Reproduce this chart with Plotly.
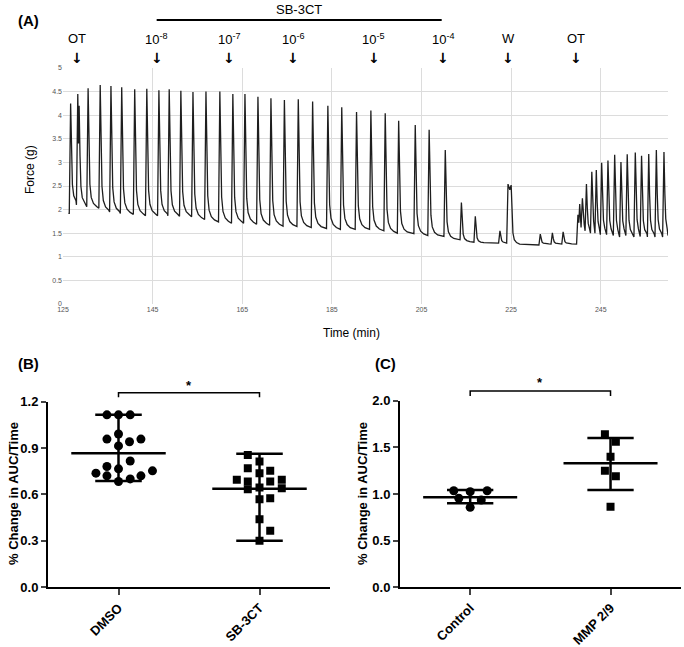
import plotly.graph_objects as go

W, H = 684, 647

# %%
# Panel A - force recording, peaks / troughs
peak_t = [126.7, 128.3, 128.6, 130.6, 133.3, 135.7, 138.1, 141.0, 143.7, 146.4,
          148.7, 151.3, 154.0, 156.9, 160.0, 162.9, 165.6, 168.5, 171.4, 174.4,
          177.5, 180.7, 184.1, 187.2, 190.5, 193.7, 196.9, 199.9, 203.6, 206.7,
          210.3, 213.9, 217.0, 222.5, 224.3, 225.0, 231.5, 234.2, 236.6, 239.9,
          240.3, 240.9, 241.8, 243.0, 244.0, 245.2, 246.6, 248.1, 249.5, 250.9,
          252.7, 254.1, 255.7, 257.4, 259.1]
peak_f = [4.25, 4.45, 4.20, 4.57, 4.64, 4.62, 4.59, 4.55, 4.56, 4.53,
          4.55, 4.52, 4.49, 4.50, 4.50, 4.45, 4.45, 4.39, 4.36, 4.32,
          4.34, 4.29, 4.20, 4.17, 4.07, 4.10, 4.04, 3.88, 3.79, 3.69,
          3.26, 2.15, 1.86, 1.55, 2.54, 2.52, 1.48, 1.51, 1.53, 1.89,
          2.12, 2.24, 2.54, 2.80, 2.84, 2.99, 3.04, 3.16, 3.01, 3.17,
          3.21, 3.14, 3.18, 3.26, 3.22]
trough_f = [2.10, 3.40, 2.06, 2.03, 1.95, 1.92, 1.90, 1.87, 1.87, 1.87,
            1.86, 1.85, 1.79, 1.74, 1.71, 1.71, 1.69, 1.67, 1.65, 1.64,
            1.62, 1.60, 1.58, 1.58, 1.58, 1.55, 1.50, 1.49, 1.45, 1.43,
            1.36, 1.31, 1.29, 1.29, 2.42, 1.25, 1.27, 1.27, 1.27, 1.72,
            1.62, 1.55, 1.50, 1.50, 1.47, 1.47, 1.45, 1.42, 1.45, 1.42,
            1.43, 1.42, 1.42, 1.42, 1.45]
start_t, start_f = 126.2, 1.92
end_t, end_f = 260.0, 1.45

# drug additions
event_t = [128.2, 145.9, 162.1, 176.4, 194.3, 209.9, 224.3, 239.4]
event_lbl = ["OT", "10<sup>-8</sup>", "10<sup>-7</sup>", "10<sup>-6</sup>",
             "10<sup>-5</sup>", "10<sup>-4</sup>", "W", "OT"]
sb_bar = [145.9, 209.5]

# %%
# Panel B - DMSO vs SB-3CT
dmso_y = [1.114, 1.114, 1.114, 0.99, 0.957, 0.957, 0.94, 0.913, 0.816,
          0.78, 0.765, 0.752, 0.737, 0.72, 0.72, 0.70, 0.683]
dmso_dx = [-0.082, 0, 0.083, 0, -0.082, 0.159, 0.078, 0, 0.083,
           -0.082, 0, 0.241, -0.16, -0.082, 0.159, 0.083, 0]
sb_y = [0.855, 0.812, 0.769, 0.737, 0.752, 0.694, 0.683, 0.683, 0.694,
        0.634, 0.644, 0.64, 0.569, 0.575, 0.44, 0.366, 0.301]
sb_dx = [-0.083, 0, -0.083, 0, 0.076, -0.161, -0.083, 0.076, 0.158,
         -0.083, 0, 0.158, 0, 0.076, 0, 0.076, 0]
b_groups = ["DMSO", "SB-3CT"]
b_mean = [0.866, 0.637]
b_hi = [1.114, 0.863]
b_lo = [0.686, 0.301]

# Panel C - Control vs MMP 2/9
ctrl_y = [1.035, 1.025, 1.035, 0.954, 0.936, 0.857]
ctrl_dx = [-0.117, 0, 0.121, -0.081, 0.079, 0]
mmp_y = [1.64, 1.56, 1.40, 1.25, 1.19, 0.864]
mmp_dx = [-0.04, 0.038, 0, -0.04, 0.038, 0]
c_groups = ["Control", "MMP 2/9"]
c_mean = [0.965, 1.33]
c_hi = [1.043, 1.60]
c_lo = [0.90, 1.043]


# screen pixel -> paper coords
def py(p):
    return 1 - p / H


def px(p):
    return p / W


# %%
# build the trace: onset -> peak -> decay tail -> next onset
decay = [(0.2, 0.5), (0.4, 0.2), (0.7, 0.09), (1.2, 0.04), (1.9, 0.015)]
tx, ty = [start_t], [start_f]
prev_f = start_f
for i, (t, h, tr) in enumerate(zip(peak_t, peak_f, trough_f)):
    prev_t = peak_t[i - 1] if i else start_t - 0.6
    rise = min(0.3, (t - prev_t) / 2)
    tx.append(t - rise)
    ty.append(prev_f)
    tx.append(t)
    ty.append(h)
    if i + 1 < len(peak_t):
        nxt = peak_t[i + 1] - min(0.3, (peak_t[i + 1] - t) / 2)
    else:
        nxt = end_t
    for d, f in decay:
        if t + d < nxt:
            tx.append(t + d)
            ty.append(tr + f * (h - tr))
    prev_f = tr
tx.append(end_t)
ty.append(end_f)

fig = go.Figure()
fig.add_trace(go.Scatter(x=tx, y=ty, mode="lines", line=dict(color="#1e1e1e", width=1.3),
                         xaxis="x", yaxis="y", showlegend=False))


def scatter_group(xa, ya, yvals, dx, idx, symbol, size):
    fig.add_trace(go.Scatter(
        x=[idx + d for d in dx], y=yvals, mode="markers",
        marker=dict(symbol=symbol, size=size, color="black"),
        xaxis=xa, yaxis=ya, showlegend=False))


def summary_lines(xa, ya, mean, hi, lo):
    for i in range(len(mean)):
        for xs, ys in [([i - 0.335, i + 0.335], [mean[i], mean[i]]),
                       ([i - 0.165, i + 0.165], [hi[i], hi[i]]),
                       ([i - 0.165, i + 0.165], [lo[i], lo[i]]),
                       ([i, i], [lo[i], hi[i]])]:
            fig.add_trace(go.Scatter(x=xs, y=ys, mode="lines",
                                     line=dict(color="black", width=2.5),
                                     xaxis=xa, yaxis=ya, showlegend=False))


summary_lines("x2", "y2", b_mean, b_hi, b_lo)
scatter_group("x2", "y2", dmso_y, dmso_dx, 0, "circle", 9)
scatter_group("x2", "y2", sb_y, sb_dx, 1, "square", 8)
summary_lines("x3", "y3", c_mean, c_hi, c_lo)
scatter_group("x3", "y3", ctrl_y, ctrl_dx, 0, "circle", 9)
scatter_group("x3", "y3", mmp_y, mmp_dx, 1, "square", 8)

small = dict(family="Arial", size=7, color="#555")
bold_ax = dict(family="Arial", size=13, color="black", weight="bold")
cat_ax = dict(range=[-0.5, 1.5], tickvals=[0, 1], tickangle=-45, ticks="outside",
              ticklen=6, tickwidth=2, showline=True, linewidth=2, linecolor="black",
              showgrid=False, zeroline=False, tickfont=bold_ax, automargin=False)
val_ax = dict(tickformat=".1f", ticks="outside", ticklen=5, tickwidth=2, showline=True,
              linewidth=2, linecolor="black", showgrid=False, zeroline=False,
              tickfont=bold_ax, automargin=False)

fig.update_layout(
    template="none",
    width=W, height=H, margin=dict(l=0, r=0, t=0, b=0, pad=0),
    paper_bgcolor="white", plot_bgcolor="white",
    xaxis=dict(domain=[px(63), px(668)], range=[125, 260], tick0=125, dtick=20,
               showgrid=True, gridcolor="#dcdcdc", gridwidth=1, zeroline=False,
               showline=False, ticks="", tickfont=small, anchor="y", automargin=False),
    yaxis=dict(domain=[py(304), py(68)], range=[0, 5], dtick=0.5,
               showgrid=True, gridcolor="#dcdcdc", gridwidth=1, zeroline=False,
               showline=False, ticks="", tickfont=small, anchor="x", automargin=False),
    xaxis2=dict(domain=[px(48), px(330)], ticktext=b_groups, anchor="y2", **cat_ax),
    yaxis2=dict(domain=[py(587.3), py(401.5)], range=[0, 1.2],
                tickvals=[0, 0.3, 0.6, 0.9, 1.2], anchor="x2", **val_ax),
    xaxis3=dict(domain=[px(400), px(680.7)], ticktext=c_groups, anchor="y3", **cat_ax),
    yaxis3=dict(domain=[py(587.3), py(400.7)], range=[0, 2.0],
                tickvals=[0, 0.5, 1.0, 1.5, 2.0], anchor="x3", **val_ax),
)

# %%
# annotations
txt = dict(family="Arial", size=13, color="black")
ann = []


def note(x, y, text, font, xref="paper", **kw):
    ann.append(dict(x=x, y=y, xref=xref, yref="paper", text=text, showarrow=False,
                    font=font, xanchor="center", yanchor="middle", **kw))


arrow_font = dict(family="DejaVu Sans", size=14, color="black", weight="bold")
for t, lbl in zip(event_t, event_lbl):
    note(t, py(39), lbl, txt, xref="x")
    note(t, py(58), "↓", arrow_font, xref="x")
note(sum(sb_bar) / 2, py(9), "SB-3CT", txt, xref="x")
panel_font = dict(family="Arial", size=15, color="black")
note(px(28), py(21), "<b>(A)</b>", panel_font)
note(px(28), py(363), "<b>(B)</b>", panel_font)
note(px(385), py(363), "<b>(C)</b>", panel_font)
note(px(30), py(170), "Force (g)", dict(family="Arial", size=12, color="black"), textangle=-90)
note(px(351), py(333), "Time (min)", dict(family="Arial", size=12, color="black"))
for xp in [13, 362]:
    note(px(xp), py(494), "<b>% Change in AUC/Time</b>", txt, textangle=-90)
note(0.5, py(385), "<b>*</b>", txt, xref="x2")
note(0.5, py(382), "<b>*</b>", txt, xref="x3")
fig.update_layout(annotations=ann)

shapes = [dict(type="line", xref="x", yref="paper", x0=sb_bar[0], x1=sb_bar[1],
               y0=py(20), y1=py(20), line=dict(color="black", width=2))]
for xa, ytop, ybot in [("x2", 392.7, 397.3), ("x3", 391, 396)]:
    shapes.append(dict(type="path", xref=xa, yref="paper",
                       path=f"M 0,{py(ybot)} L 0,{py(ytop)} L 1,{py(ytop)} L 1,{py(ybot)}",
                       line=dict(color="black", width=1.5)))
fig.update_layout(shapes=shapes)

# drop the default page margin so the figure sits at the window corner
fig.write_html("out.html", config={"displayModeBar": False},
               post_script="document.body.style.margin = '0';")
